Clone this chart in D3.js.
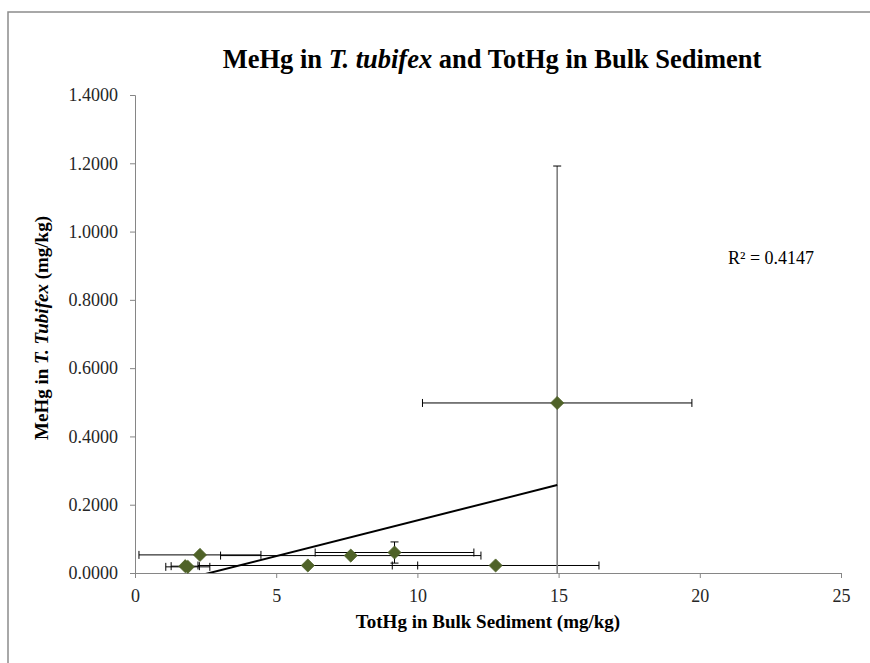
<!DOCTYPE html>
<html>
<head>
<meta charset="utf-8">
<script src="https://cdn.jsdelivr.net/npm/d3@7/dist/d3.min.js"></script>
<style>
  html, body { margin: 0; padding: 0; background: #fff; }
  svg { display: block; font-family: "Liberation Serif", "Times New Roman", serif; }
  svg text { font-family: "Liberation Serif", "Times New Roman", serif; }
</style>
</head>
<body>
<svg id="chart" width="870" height="663"></svg>
<script>
// ---- data ----
const totHg = [14.95, 12.77, 9.19, 7.64, 6.12, 2.30, 1.87, 1.78];      // x: TotHg in bulk sediment (mg/kg)
const meHg  = [0.498, 0.022, 0.060, 0.051, 0.022, 0.053, 0.018, 0.020]; // y: MeHg in T. tubifex (mg/kg)
const totHgErr = [4.77, 3.66, 2.81, 4.61, 3.89, 2.16, 0.78, 0.50];      // x error (+/-)
const meHgErr  = [0.694, 0, 0.031, 0, 0, 0, 0, 0];                     // y error (+/-)
const xTicks = [0, 5, 10, 15, 20, 25];
const yTicks = [0, 0.2, 0.4, 0.6, 0.8, 1.0, 1.2, 1.4];
const r2Label = "R² = 0.4147";

const svg = d3.select("#chart");
const plot = { left: 135, right: 841, top: 95, bottom: 573 };

// outer chart frame
svg.append("rect").attr("x", 8).attr("y", 12).attr("width", 900).attr("height", 700)
  .attr("fill", "none").attr("stroke", "#8c8c8c").attr("stroke-width", 1.5);

const x = d3.scaleLinear().domain([0, 25]).range([plot.left, plot.right]);
const y = d3.scaleLinear().domain([0, 1.4]).range([plot.bottom, plot.top]);

svg.append("defs").append("clipPath").attr("id", "clip")
  .append("rect").attr("x", plot.left).attr("y", plot.top - 2)
  .attr("width", plot.right - plot.left).attr("height", plot.bottom - plot.top + 2);

// axes
const yAxis = d3.axisLeft(y).tickValues(yTicks).tickFormat(d3.format(".4f")).tickSizeOuter(0).tickSize(5).tickPadding(12);
const xAxis = d3.axisBottom(x).tickValues(xTicks).tickFormat(d3.format("d")).tickSizeOuter(0).tickSize(5).tickPadding(11);

const gy = svg.append("g").attr("transform", `translate(${plot.left},0)`).call(yAxis);
const gx = svg.append("g").attr("transform", `translate(0,${plot.bottom})`).call(xAxis);
[gx, gy].forEach(g => {
  g.attr("font-family", "Liberation Serif").attr("font-size", 18);
  g.select(".domain").attr("stroke", "#868686").attr("stroke-width", 1);
  g.selectAll(".tick line").attr("stroke", "#868686");
  g.selectAll(".tick text").attr("fill", "#262626");
});

// data rows
const pts = totHg.map((v, i) => ({ x: v, y: meHg[i], ex: totHgErr[i], ey: meHgErr[i] }));

const g = svg.append("g").attr("clip-path", "url(#clip)");

// x error bars
const cap = 4;
pts.forEach(p => {
  if (p.ex > 0) {
    const yy = y(p.y);
    g.append("line").attr("x1", x(p.x - p.ex)).attr("x2", x(p.x + p.ex)).attr("y1", yy).attr("y2", yy)
      .attr("stroke", "#000").attr("stroke-width", 1);
    [p.x - p.ex, p.x + p.ex].forEach(v => {
      g.append("line").attr("x1", x(v)).attr("x2", x(v)).attr("y1", yy - cap).attr("y2", yy + cap)
        .attr("stroke", "#000").attr("stroke-width", 1);
    });
  }
});
// y error bars
pts.forEach(p => {
  if (p.ey > 0) {
    const xx = x(p.x);
    const big = p.ey > 0.3;
    g.append("line").attr("x1", xx).attr("x2", xx).attr("y1", y(p.y + p.ey)).attr("y2", y(p.y - p.ey))
      .attr("stroke", big ? "#7f7f7f" : "#000").attr("stroke-width", big ? 1.6 : 1);
    [p.y - p.ey, p.y + p.ey].forEach(v => {
      g.append("line").attr("x1", xx - cap).attr("x2", xx + cap).attr("y1", y(v)).attr("y2", y(v))
        .attr("stroke", "#000").attr("stroke-width", 1);
    });
  }
});

// linear trendline (least squares over the data)
const mx = d3.mean(totHg), my = d3.mean(meHg);
const sxy = d3.sum(pts, p => (p.x - mx) * (p.y - my));
const sxx = d3.sum(pts, p => (p.x - mx) ** 2);
const slope = sxy / sxx, intercept = my - slope * mx;
const [xmin, xmax] = d3.extent(totHg);
g.append("line")
  .attr("x1", x(xmin)).attr("y1", y(intercept + slope * xmin))
  .attr("x2", x(xmax)).attr("y2", y(intercept + slope * xmax))
  .attr("stroke", "#000").attr("stroke-width", 2);

// markers
const diamond = d3.symbol().type(d3.symbolDiamond2).size(110);
svg.append("g").selectAll("path").data(pts).join("path")
  .attr("d", diamond)
  .attr("transform", d => `translate(${x(d.x)},${y(d.y)})`)
  .attr("fill", "#4f6228").attr("stroke", "#4f6228").attr("stroke-width", 0.8);

// R² label
svg.append("text").attr("x", 728).attr("y", 264).attr("font-size", 18).attr("fill", "#000")
  .text(r2Label);

// title
const t = svg.append("text").attr("x", 492).attr("y", 68).attr("text-anchor", "middle")
  .attr("font-size", 26.5).attr("font-weight", "bold").attr("fill", "#000");
t.append("tspan").text("MeHg in ");
t.append("tspan").attr("font-style", "italic").text("T. tubifex");
t.append("tspan").text(" and TotHg in Bulk Sediment");

// x axis title
svg.append("text").attr("x", 488).attr("y", 628).attr("text-anchor", "middle")
  .attr("font-size", 19).attr("font-weight", "bold").text("TotHg in Bulk Sediment (mg/kg)");

// y axis title
const yt = svg.append("text").attr("transform", `translate(48,328) rotate(-90)`)
  .attr("text-anchor", "middle").attr("font-size", 19).attr("font-weight", "bold");
yt.append("tspan").text("MeHg in ");
yt.append("tspan").attr("font-style", "italic").text("T. Tubifex");
yt.append("tspan").text(" (mg/kg)");
</script>
</body>
</html>
